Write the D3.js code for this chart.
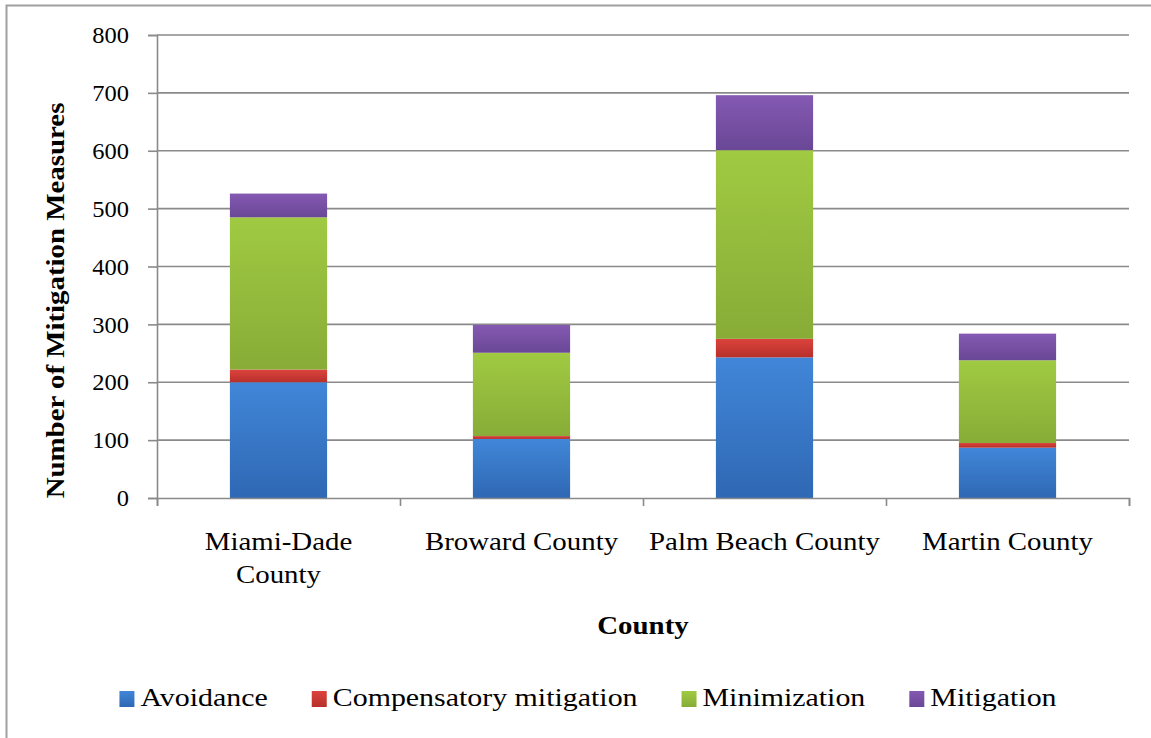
<!DOCTYPE html>
<html>
<head>
<meta charset="utf-8">
<script src="https://cdn.jsdelivr.net/npm/d3@7"></script>
<style>
  html, body { margin: 0; padding: 0; background: #fff; }
  svg { display: block; }
  text { font-family: "Liberation Serif", "Times New Roman", serif; fill: #000; }
</style>
</head>
<body>
<svg id="chart" width="1151" height="738"></svg>
<script>
// ---- data ----
const categories = ["Miami-Dade County", "Broward County", "Palm Beach County", "Martin County"];
const categoryLines = [["Miami-Dade", "County"], ["Broward County"], ["Palm Beach County"], ["Martin County"]];
const seriesNames = ["Avoidance", "Compensatory mitigation", "Minimization", "Mitigation"];
const avoidance = [200, 102, 243, 87];
const compensatory = [22, 5, 32, 8];
const minimization = [263, 144, 326, 143];
const mitigation = [41, 48, 95, 46];
const yTicks = [0, 100, 200, 300, 400, 500, 600, 700, 800];
const yTitle = "Number of Mitigation Measures";
const xTitle = "County";

// ---- styles ----
const colors = {
  "Avoidance": ["#4186d8", "#2f68b4"],
  "Compensatory mitigation": ["#dc433c", "#b7302b"],
  "Minimization": ["#a0ca42", "#88ac37"],
  "Mitigation": ["#8459b2", "#6a4796"]
};
const STRETCH = 1.11;

const svg = d3.select("#chart");
const W = 1151, H = 738;
const plot = { left: 157, right: 1129, top: 35, bottom: 498 };

// outer border (clipped on right/bottom like the reference)
svg.append("rect").attr("x", 6.5).attr("y", 5.5).attr("width", W + 10).attr("height", H + 10)
  .attr("fill", "none").attr("stroke", "#a0a0a0").attr("stroke-width", 2);

// gradients
const defs = svg.append("defs");
seriesNames.forEach((s, i) => {
  const g = defs.append("linearGradient").attr("id", "g" + i)
    .attr("x1", 0).attr("y1", 0).attr("x2", 0).attr("y2", 1);
  g.append("stop").attr("offset", "0%").attr("stop-color", colors[s][0]);
  g.append("stop").attr("offset", "100%").attr("stop-color", colors[s][1]);
});

const rows = categories.map((c, i) => ({
  category: c,
  "Avoidance": avoidance[i],
  "Compensatory mitigation": compensatory[i],
  "Minimization": minimization[i],
  "Mitigation": mitigation[i]
}));

const x = d3.scaleBand().domain(categories).range([plot.left, plot.right])
  .paddingInner(0.6).paddingOuter(0.3);
const y = d3.scaleLinear().domain([0, 800]).range([plot.bottom, plot.top]);

// gridlines
svg.append("g").selectAll("line").data(yTicks.filter(t => t > 0)).join("line")
  .attr("x1", plot.left).attr("x2", plot.right)
  .attr("y1", d => y(d)).attr("y2", d => y(d))
  .attr("stroke", "#8a8a8a").attr("stroke-width", 1.6);

// bars
const stack = d3.stack().keys(seriesNames)(rows);
const barG = svg.append("g");
stack.forEach((layer, i) => {
  barG.append("g").selectAll("rect").data(layer).join("rect")
    .attr("x", d => x(d.data.category))
    .attr("width", x.bandwidth())
    .attr("y", d => y(d[1]))
    .attr("height", d => y(d[0]) - y(d[1]))
    .attr("fill", `url(#g${i})`);
});

// y axis
const yAxis = d3.axisLeft(y).tickValues(yTicks).tickSize(9).tickPadding(19).tickFormat(d3.format("d"));
const yg = svg.append("g").attr("transform", `translate(${plot.left},0)`).call(yAxis);
yg.attr("font-family", null).attr("font-size", null);
yg.select(".domain").attr("stroke", "#8a8a8a").attr("stroke-width", 1.6);
yg.selectAll(".tick line").attr("stroke", "#8a8a8a").attr("stroke-width", 1.6);
yg.selectAll(".tick text").attr("class", "st tk").attr("font-size", 24).attr("fill", "#000");

// x axis (category boundary ticks)
const xb = d3.scaleLinear().domain([0, categories.length]).range([plot.left, plot.right]);
const xAxis = d3.axisBottom(xb).tickValues(d3.range(categories.length + 1)).tickSize(8).tickFormat("");
const xg = svg.append("g").attr("transform", `translate(0,${plot.bottom})`).call(xAxis);
xg.select(".domain").attr("stroke", "#8a8a8a").attr("stroke-width", 1.6);
xg.selectAll(".tick line").attr("stroke", "#8a8a8a").attr("stroke-width", 1.6);

// category labels
const catG = svg.append("g");
categories.forEach((c, i) => {
  const cx = x(c) + x.bandwidth() / 2;
  categoryLines[i].forEach((line, j) => {
    catG.append("text").attr("class", "st").attr("x", cx).attr("y", 550 + j * 33)
      .attr("text-anchor", "middle").attr("font-size", 26).text(line);
  });
});

// axis titles
svg.append("text").attr("class", "st")
  .attr("transform", `translate(64,${(plot.top + plot.bottom) / 2 + 34}) rotate(-90)`)
  .attr("text-anchor", "middle").attr("font-size", 26).attr("font-weight", "bold").text(yTitle);
svg.append("text").attr("class", "st")
  .attr("x", (plot.left + plot.right) / 2).attr("y", 634)
  .attr("text-anchor", "middle").attr("font-size", 26).attr("font-weight", "bold").text(xTitle);

// legend
const leg = svg.append("g");
const items = seriesNames.map((s, i) => {
  const g = leg.append("g");
  g.append("rect").attr("x", 0).attr("y", -15).attr("width", 15).attr("height", 16).attr("fill", `url(#g${i})`);
  const t = g.append("text").attr("class", "st lg").attr("x", 21).attr("y", 0).attr("font-size", 26).text(s);
  return { g, t };
});

// stretch texts horizontally to mimic the wider original face
svg.selectAll("text").each(function () {
  const sel = d3.select(this);
  const f = sel.classed("tk") ? 1.02 : sel.classed("lg") ? 1.15 : STRETCH;
  const L = this.getComputedTextLength() * f;
  sel.attr("textLength", L).attr("lengthAdjust", "spacingAndGlyphs");
  this.__len = L;
});

// legend layout
const gap = 44;
const widths = items.map(it => 21 + it.t.node().__len);
const total = d3.sum(widths) + gap * (items.length - 1);
let cur = 588 - total / 2;
items.forEach((it, i) => {
  it.g.attr("transform", `translate(${cur},706)`);
  cur += widths[i] + gap;
});
</script>
</body>
</html>
